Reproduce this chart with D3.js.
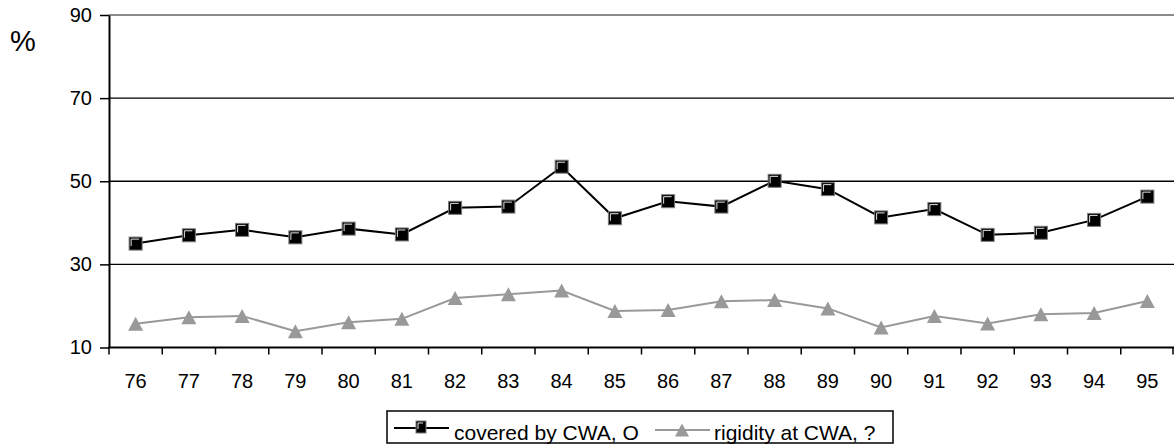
<!DOCTYPE html>
<html>
<head>
<meta charset="utf-8">
<script src="https://cdn.jsdelivr.net/npm/d3@7"></script>
<style>
  html, body { margin: 0; padding: 0; background: #fff; }
  svg { display: block; font-family: "Liberation Sans", Arial, sans-serif; }
</style>
</head>
<body>
<svg id="chart" width="1174" height="446"></svg>
<script>
// Years (two-digit labels) and the two series, in percent
const years = ["76","77","78","79","80","81","82","83","84","85","86","87","88","89","90","91","92","93","94","95"];
const coveredByCWA = [35.0, 37.0, 38.3, 36.5, 38.6, 37.2, 43.6, 43.9, 53.5, 41.1, 45.2, 43.9, 50.1, 48.1, 41.3, 43.3, 37.1, 37.6, 40.7, 46.3];
const rigidityAtCWA = [15.7, 17.3, 17.6, 13.9, 16.1, 16.9, 21.9, 22.8, 23.7, 18.8, 19.0, 21.1, 21.4, 19.4, 14.8, 17.6, 15.8, 18.0, 18.3, 21.2];
const yTicks = [10, 30, 50, 70, 90];
const seriesNames = ["covered by CWA, O", "rigidity at CWA, ?"];

const svg = d3.select("#chart");
const plotLeft = 109, plotRight = 1174, plotTop = 15, plotBottom = 347.5;

const x = d3.scaleBand().domain(years).range([plotLeft, plotRight]);
const y = d3.scaleLinear().domain([10, 90]).range([plotBottom, plotTop]);
const cx = d => x(d) + x.bandwidth() / 2;

// horizontal gridlines
svg.append("g").selectAll("line")
  .data(yTicks.filter(v => v > 10))
  .join("line")
  .attr("x1", plotLeft).attr("x2", plotRight)
  .attr("y1", d => y(d)).attr("y2", d => y(d))
  .attr("stroke", d => d === 90 ? "#8c8c8c" : "#000")
  .attr("stroke-width", d => d === 90 ? 2 : 1.3);

// y axis
const yAxis = svg.append("g")
  .attr("transform", `translate(${plotLeft},0)`)
  .call(d3.axisLeft(y).tickValues(yTicks).tickSize(9).tickPadding(8).tickSizeOuter(0));
yAxis.select(".domain").attr("stroke", "#000").attr("stroke-width", 2);
yAxis.selectAll(".tick line").attr("stroke", "#000").attr("stroke-width", 1.5);
yAxis.selectAll("text").attr("font-size", 20).attr("fill", "#000")
  .attr("font-family", "Liberation Sans, Arial, sans-serif");

// x axis: labels centred in each band, ticks on band boundaries
const xAxis = svg.append("g")
  .attr("transform", `translate(0,${plotBottom})`)
  .call(d3.axisBottom(x).tickSize(0).tickPadding(26).tickSizeOuter(0));
xAxis.select(".domain").remove();
xAxis.selectAll("text").attr("font-size", 20).attr("fill", "#000")
  .attr("font-family", "Liberation Sans, Arial, sans-serif");

svg.append("line")
  .attr("x1", plotLeft - 1).attr("x2", plotRight)
  .attr("y1", plotBottom).attr("y2", plotBottom)
  .attr("stroke", "#000").attr("stroke-width", 2);

svg.append("g").selectAll("line")
  .data(years.concat(["end"]))
  .join("line")
  .attr("x1", d => d === "end" ? plotRight - 1 : x(d))
  .attr("x2", d => d === "end" ? plotRight - 1 : x(d))
  .attr("y1", plotBottom).attr("y2", plotBottom + 7)
  .attr("stroke", "#000").attr("stroke-width", 1.5);

// "%" unit label
svg.append("text")
  .attr("x", 10).attr("y", 51)
  .attr("font-size", 29)
  .attr("fill", "#000")
  .text("%");

// marker helpers
function squareMarker(g, px, py, w, h) {
  const s = g.append("g").attr("transform", `translate(${px},${py})`);
  s.append("rect")
    .attr("x", -w / 2).attr("y", -h / 2).attr("width", w).attr("height", h)
    .attr("fill", "#000").attr("stroke", "#7a7a7a").attr("stroke-width", 1);
  s.append("path")
    .attr("d", `M${-w / 2 + 2},${h / 2 - 4}V${-h / 2 + 2}H${w / 2 - 3}`)
    .attr("fill", "none").attr("stroke", "#e6e6e6").attr("stroke-width", 1);
}
function triangleMarker(g, px, py, w, h) {
  g.append("path")
    .attr("d", `M${px},${py - h / 2}L${px + w / 2},${py + h / 2}L${px - w / 2},${py + h / 2}Z`)
    .attr("fill", "#999");
}

const line = d3.line().x(d => cx(d[0])).y(d => y(d[1]));

// rigidity series (gray, triangles)
const rig = years.map((yr, i) => [yr, rigidityAtCWA[i]]);
svg.append("path")
  .datum(rig)
  .attr("d", line)
  .attr("fill", "none").attr("stroke", "#999").attr("stroke-width", 2);
const gRig = svg.append("g");
rig.forEach(d => triangleMarker(gRig, cx(d[0]), y(d[1]), 15, 14));

// coverage series (black, squares)
const cov = years.map((yr, i) => [yr, coveredByCWA[i]]);
svg.append("path")
  .datum(cov)
  .attr("d", line)
  .attr("fill", "none").attr("stroke", "#000").attr("stroke-width", 2);
const gCov = svg.append("g");
cov.forEach(d => squareMarker(gCov, cx(d[0]), y(d[1]), 13, 13));

// legend
const lg = svg.append("g");
lg.append("rect")
  .attr("x", 387).attr("y", 411).attr("width", 506).attr("height", 32)
  .attr("fill", "#fff").attr("stroke", "#000").attr("stroke-width", 1.5);

lg.append("line").attr("x1", 394).attr("x2", 449).attr("y1", 428).attr("y2", 428)
  .attr("stroke", "#000").attr("stroke-width", 2);
squareMarker(lg, 421, 427, 10, 12);
lg.append("text").attr("x", 454).attr("y", 440).attr("font-size", 21).attr("fill", "#000")
  .text(seriesNames[0]);

lg.append("line").attr("x1", 655).attr("x2", 710).attr("y1", 430).attr("y2", 430)
  .attr("stroke", "#999").attr("stroke-width", 2);
triangleMarker(lg, 682, 430, 14, 13);
lg.append("text").attr("x", 714).attr("y", 440).attr("font-size", 21).attr("fill", "#000")
  .text(seriesNames[1]);
</script>
</body>
</html>
